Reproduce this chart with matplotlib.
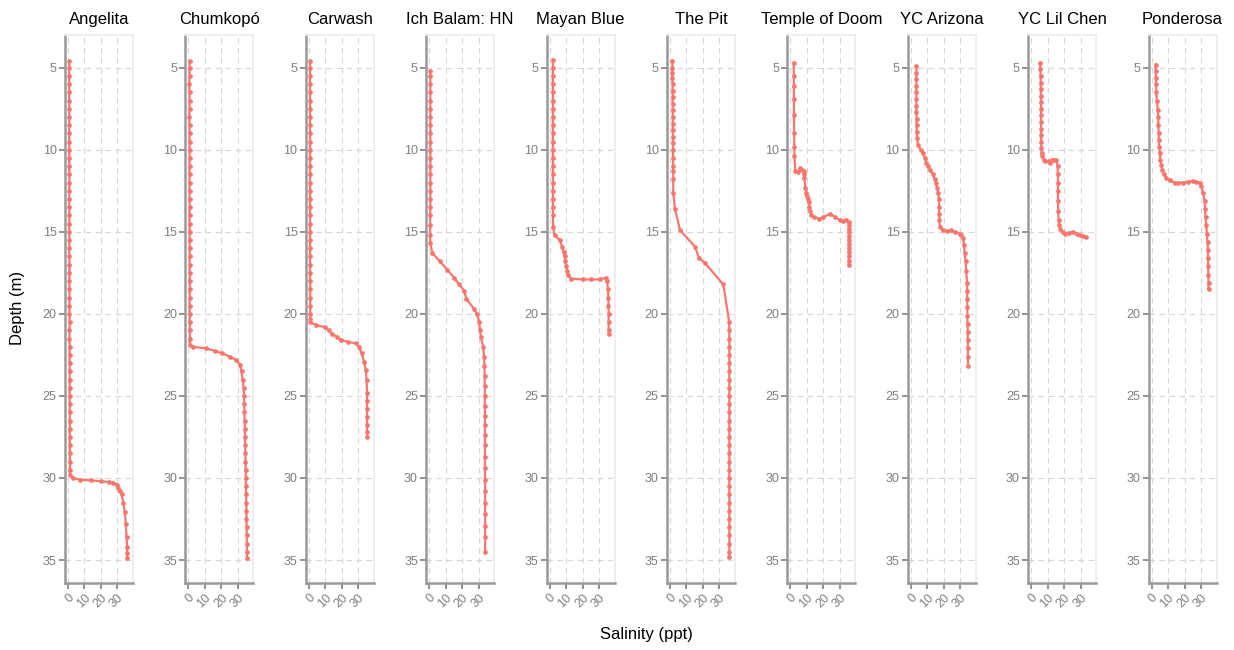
import matplotlib
matplotlib.use("Agg")
import matplotlib.pyplot as plt

plt.rcParams['font.family'] = ['Liberation Sans', 'DejaVu Sans']

sites = ["Angelita", "Chumkopó", "Carwash", "Ich Balam: HN", "Mayan Blue",
         "The Pit", "Temple of Doom", "YC Arizona", "YC Lil Chen", "Ponderosa"]

# depth (m) and salinity (ppt) for each cenote profile
angelita_depth = [4.6, 5, 5.5, 6, 6.5, 7, 7.5, 8, 8.5, 9, 9.5, 10, 10.5, 11, 11.5, 12,
                  12.5, 13, 13.5, 14, 14.5, 15, 15.5, 16, 16.5, 17, 17.5, 18, 18.5, 19,
                  19.5, 20, 20.5, 21, 21.5, 22, 22.5, 23, 23.5, 24, 24.5, 25, 25.5, 26,
                  26.5, 27, 27.5, 28, 28.5, 29, 29.5, 29.8, 30.0, 30.1, 30.15, 30.2,
                  30.25, 30.3, 30.4, 30.6, 30.8, 31.0, 31.5, 32.1, 32.8, 33.6, 34.2,
                  34.6, 34.9]
angelita_sal = [0.8, 0.8, 0.7, 0.8, 0.8, 0.7, 0.8, 0.8, 0.8, 0.7, 0.8, 0.8, 0.8, 0.8,
                0.8, 0.9, 0.8, 0.8, 0.8, 0.9, 0.8, 0.8, 0.9, 0.8, 0.8, 0.9, 0.9, 0.8,
                0.9, 0.9, 0.9, 0.9, 1.0, 0.9, 0.9, 1.0, 1.0, 1.0, 1.0, 1.0, 1.0, 1.0,
                1.1, 1.1, 1.1, 1.1, 1.1, 1.2, 1.2, 1.2, 1.2, 1.3, 3.0, 7.3, 14.0, 20.0,
                25.0, 27.5, 29.5, 30.5, 31.5, 32.5, 33.5, 34.5, 35.0, 35.5, 35.8, 35.8,
                35.9]

chumkopo_depth = [4.6, 5, 5.5, 6, 6.5, 7, 7.5, 8, 8.5, 9, 9.5, 10, 10.5, 11, 11.5, 12,
                  12.5, 13, 13.5, 14, 14.5, 15, 15.5, 16, 16.5, 17, 17.5, 18, 18.5, 19,
                  19.5, 20, 20.5, 21, 21.5, 21.9, 22.0, 22.1, 22.25, 22.4, 22.6, 22.8,
                  23.1, 23.5, 24.0, 24.5, 25, 25.5, 26, 26.5, 27, 27.5, 28, 28.5, 29,
                  29.5, 30, 30.5, 31, 31.5, 32, 32.5, 33, 33.5, 34, 34.5, 34.9]
chumkopo_sal = [0.7, 0.7, 0.7, 0.6, 0.7, 0.7, 0.7, 0.6, 0.7, 0.7, 0.7, 0.7, 0.7, 0.7,
                0.7, 0.7, 0.7, 0.7, 0.8, 0.7, 0.7, 0.8, 0.7, 0.8, 0.8, 0.8, 0.8, 0.8,
                0.8, 0.8, 0.8, 0.8, 0.8, 0.9, 0.9, 0.9, 2.6, 10.7, 16.0, 20.6, 25.0,
                28.9, 31.3, 32.2, 32.8, 33.5, 33.7, 33.8, 34.0, 34.1, 34.2, 34.3, 34.4,
                34.5, 34.6, 34.7, 34.8, 34.9, 35.0, 35.1, 35.2, 35.2, 35.3, 35.4, 35.4,
                35.5, 35.5]

carwash_depth = [4.6, 5, 5.5, 6, 6.5, 7, 7.5, 8, 8.5, 9, 9.5, 10, 10.5, 11, 11.5, 12,
                 12.5, 13, 13.5, 14, 14.5, 15, 15.5, 16, 16.5, 17, 17.5, 18, 18.5, 19,
                 19.5, 20, 20.3, 20.5, 20.7, 20.8, 21.0, 21.2, 21.4, 21.6, 21.7, 21.8,
                 22.0, 22.4, 22.9, 23.4, 24.0, 24.8, 25.3, 25.8, 26.3, 26.8, 27.2, 27.5]
carwash_sal = [0.8, 0.8, 0.8, 0.7, 0.8, 0.8, 0.8, 0.8, 0.7, 0.8, 0.8, 0.8, 0.8, 0.8,
               0.8, 0.8, 0.8, 0.8, 0.8, 0.8, 0.8, 0.8, 0.8, 0.8, 0.8, 0.8, 0.8, 0.8,
               0.9, 0.9, 0.9, 0.9, 0.9, 1.0, 4.6, 9.7, 12.0, 13.8, 17.0, 19.8, 23.8,
               28.9, 30.5, 32.0, 33.5, 34.5, 35.0, 35.3, 35.3, 35.3, 35.3, 35.3, 35.3,
               35.3]

ichbalam_depth = [5.2, 5.5, 6, 6.5, 7, 7.5, 8, 8.5, 9, 9.5, 10, 10.5, 11, 11.5, 12, 12.5,
                  13, 13.5, 14, 14.6, 15.2, 15.7, 16.3, 16.8, 17.3, 17.8, 18.2, 18.6,
                  19.1, 19.7, 20.0, 20.5, 21.0, 21.4, 22.0, 22.6, 23.2, 23.8, 24.4, 25.0,
                  25.6, 26.2, 26.8, 27.4, 28.0, 28.7, 29.4, 30.1, 30.8, 31.5, 32.2, 32.9,
                  33.6, 34.5]
ichbalam_sal = [0.6, 0.7, 0.7, 0.7, 0.7, 0.7, 0.7, 0.7, 0.7, 0.7, 0.7, 0.7, 0.7, 0.7,
                0.7, 0.7, 0.7, 0.7, 0.6, 0.6, 0.6, 0.7, 2.0, 6.5, 11.1, 15.0, 18.2, 21.2,
                22.6, 27.3, 28.9, 30.3, 30.8, 31.3, 32.7, 33.3, 33.5, 33.6, 33.7, 33.7,
                33.7, 33.8, 33.8, 33.8, 33.8, 33.8, 33.8, 33.9, 33.9, 33.9, 33.9, 33.9,
                33.9, 33.9]

mayan_depth = [4.5, 5, 5.5, 6, 6.5, 7, 7.5, 8, 8.5, 9, 9.5, 10, 10.5, 11, 11.5, 12, 12.5,
               13, 13.5, 14, 14.7, 15.2, 15.5, 15.9, 16.2, 16.5, 16.8, 17.1, 17.4, 17.6,
               17.85, 17.9, 17.9, 17.9, 17.8, 18.0, 18.5, 19.0, 19.5, 20.0, 20.5, 21.0,
               21.2]
mayan_sal = [2.0, 2.0, 2.0, 2.0, 2.0, 2.0, 2.0, 2.0, 2.0, 2.0, 2.0, 2.0, 2.0, 2.0, 2.0,
             2.0, 2.0, 2.0, 2.0, 2.0, 2.1, 3.0, 6.1, 7.7, 8.5, 9.1, 9.6, 10.1, 10.6, 11.1,
             13.1, 20.0, 25.0, 30.3, 33.9, 34.8, 35.4, 35.6, 35.7, 35.8, 35.8, 35.8, 35.8]

pit_depth = [4.6, 5.0, 5.3, 5.6, 6.0, 6.4, 6.8, 7.2, 7.6, 8.0, 8.4, 8.8, 9.2, 9.6, 10.0,
             10.5, 11.0, 11.3, 11.8, 12.6, 13.6, 14.9, 15.9, 16.6, 16.9, 18.2, 20.5, 21,
             21.5, 22, 22.5, 23, 23.5, 24, 24.5, 25, 25.5, 26, 26.5, 27, 27.5, 28, 28.5,
             29, 29.5, 30, 30.5, 31, 31.5, 32, 32.5, 33, 33.5, 34, 34.5, 34.8]
pit_sal = [1.4, 1.5, 1.5, 1.5, 1.6, 1.6, 1.6, 1.6, 1.7, 1.7, 1.7, 1.7, 1.8, 1.8, 1.8,
           1.8, 1.9, 1.9, 2.0, 2.0, 3.0, 6.1, 15.2, 17.6, 21.2, 32.3, 35.9, 35.9, 36.0,
           36.0, 36.0, 36.0, 36.0, 36.0, 36.0, 36.0, 36.0, 36.0, 36.0, 36.0, 36.0, 36.0,
           36.0, 36.0, 36.0, 36.0, 36.0, 36.0, 36.0, 36.0, 36.0, 36.0, 36.0, 36.0, 36.0,
           36.0]

temple_depth = [4.7, 5.5, 6.1, 6.9, 7.9, 9.0, 9.8, 10.4, 11.3, 11.35, 11.1, 11.2, 11.3,
                11.5, 11.7, 12.3, 12.6, 12.8, 13.0, 13.2, 13.5, 13.7, 13.95, 14.1, 14.2,
                14.1, 13.9, 14.1, 14.3, 14.35, 14.3, 14.4, 14.6, 14.8, 15.0, 15.25, 15.5,
                15.75, 16.0, 16.25, 16.5, 16.75, 17.0]
temple_sal = [2.0, 2.1, 2.1, 2.1, 2.2, 2.3, 2.4, 2.5, 3.0, 4.5, 6.1, 7.0, 8.1, 8.3, 8.5,
              9.1, 9.6, 10.1, 10.6, 11.0, 11.4, 11.7, 12.8, 14.1, 17.2, 20.0, 24.2, 27.0,
              30.3, 32.0, 33.9, 35.4, 35.4, 35.4, 35.4, 35.4, 35.4, 35.4, 35.4, 35.4,
              35.4, 35.4, 35.4]

arizona_depth = [4.9, 5.3, 5.7, 6.1, 6.5, 6.9, 7.3, 7.7, 8.1, 8.5, 8.9, 9.3, 9.7, 10.0,
                 10.2, 10.5, 10.8, 11.0, 11.2, 11.5, 11.8, 12.0, 12.3, 12.6, 13.0, 13.5,
                 13.9, 14.3, 14.7, 14.9, 14.95, 14.9, 15.0, 15.1, 15.2, 15.4, 15.8, 16.3,
                 16.8, 17.4, 18.1, 18.6, 19.1, 19.6, 20.1, 20.6, 21.1, 21.6, 22.1, 22.6,
                 23.2]
arizona_sal = [3.4, 3.4, 3.4, 3.4, 3.4, 3.4, 3.4, 3.4, 3.5, 3.5, 3.6, 3.8, 4.4, 6.0, 7.5,
               8.5, 9.5, 10.5, 11.5, 13.5, 14.5, 15.2, 16.0, 16.6, 17.0, 17.2, 17.2,
               17.4, 17.6, 19.6, 22.0, 24.6, 27.0, 29.7, 30.7, 31.7, 32.2, 32.7, 33.2,
               33.6, 34.1, 34.2, 34.2, 34.3, 34.3, 34.4, 34.5, 34.5, 34.6, 34.6, 34.7]

lilchen_depth = [4.7, 5.1, 5.5, 5.9, 6.3, 6.7, 7.1, 7.5, 7.9, 8.3, 8.7, 9.1, 9.5, 9.9,
                 10.2, 10.4, 10.6, 10.7, 10.7, 10.8, 10.6, 10.6, 10.6, 11.0, 11.5, 12.0,
                 12.5, 13.1, 13.7, 14.3, 14.6, 14.8, 15.0, 15.1, 15.05, 15.0, 15.1, 15.2,
                 15.25, 15.3]
lilchen_sal = [5.5, 5.6, 5.7, 5.8, 5.9, 5.9, 5.9, 6.0, 6.0, 6.0, 6.0, 6.0, 6.1, 6.2, 6.3,
               6.5, 7.5, 8.5, 10.5, 11.5, 12.5, 14.0, 15.2, 16.0, 16.1, 16.2, 16.2, 16.2,
               16.4, 16.6, 17.0, 17.6, 19.0, 20.6, 23.0, 25.6, 27.5, 29.7, 31.5, 33.3]

ponderosa_depth = [4.8, 5.2, 5.6, 6.0, 6.5, 7.0, 7.6, 8.0, 8.5, 9.0, 9.4, 9.8, 10.2, 10.6,
                   10.9, 11.2, 11.5, 11.7, 11.85, 12.0, 12.0, 12.0, 11.95, 11.9, 11.95,
                   12.0, 12.2, 12.6, 13.1, 13.6, 14.1, 14.6, 15.1, 15.6, 16.1, 16.6, 17.1,
                   17.6, 18.1, 18.5]
ponderosa_sal = [2.4, 2.5, 2.6, 2.7, 2.8, 3.2, 3.8, 4.0, 4.1, 4.3, 4.4, 4.6, 5.0, 5.3,
                 5.9, 6.5, 7.5, 8.9, 11.0, 13.9, 16.0, 19.0, 22.0, 25.0, 27.0, 29.1, 30.2,
                 31.1, 32.1, 32.4, 32.7, 33.1, 33.5, 33.9, 34.1, 34.2, 34.3, 34.4, 34.5,
                 34.5]

profiles = [
    (angelita_depth, angelita_sal),
    (chumkopo_depth, chumkopo_sal),
    (carwash_depth, carwash_sal),
    (ichbalam_depth, ichbalam_sal),
    (mayan_depth, mayan_sal),
    (pit_depth, pit_sal),
    (temple_depth, temple_sal),
    (arizona_depth, arizona_sal),
    (lilchen_depth, lilchen_sal),
    (ponderosa_depth, ponderosa_sal),
]

depth_ticks = [5, 10, 15, 20, 25, 30, 35]
sal_ticks = [0, 10, 20, 30]

W, H = 1234, 650
fig = plt.figure(figsize=(W / 100, H / 100), dpi=100)

line_col = "#F8766D"
tick_col = "#7F7F7F"

for i, (name, (depth, sal)) in enumerate(zip(sites, profiles)):
    left = 65 + i * 120.4
    ax = fig.add_axes([left / W, 1 - 583 / H, 68 / W, (583 - 35) / H])
    ax.plot(sal, depth, color=line_col, lw=1.6, marker="o", ms=3.4,
            markeredgewidth=0, zorder=3, clip_on=False)
    ax.set_xlim(-1.8, 39.4)
    ax.set_ylim(36.4, 3.0)
    ax.set_xticks(sal_ticks)
    ax.set_yticks(depth_ticks)
    ax.set_xticklabels([str(t) for t in sal_ticks], rotation=45, ha="right",
                       va="top", rotation_mode="anchor")
    ax.tick_params(colors=tick_col, labelcolor=tick_col, labelsize=9,
                   length=4, width=1.2, pad=2)
    ax.grid(True, color="#D6D6D6", lw=0.8, ls=(0, (5, 4)))
    ax.set_axisbelow(True)
    for side in ("left", "bottom"):
        ax.spines[side].set_color("#999999")
        ax.spines[side].set_linewidth(1.8)
    for side in ("top", "right"):
        ax.spines[side].set_color("#EBEBEB")
        ax.spines[side].set_linewidth(1.2)
    ax.set_title(name, fontsize=12, color="black", pad=8)

fig.text(646 / W, 1 - 634 / H, "Salinity (ppt)", ha="center", va="center", fontsize=12)
fig.text(18 / W, 1 - 308 / H, "Depth (m)", ha="center", va="center", rotation=90,
         fontsize=12)

fig.savefig("out.png", dpi=100)
